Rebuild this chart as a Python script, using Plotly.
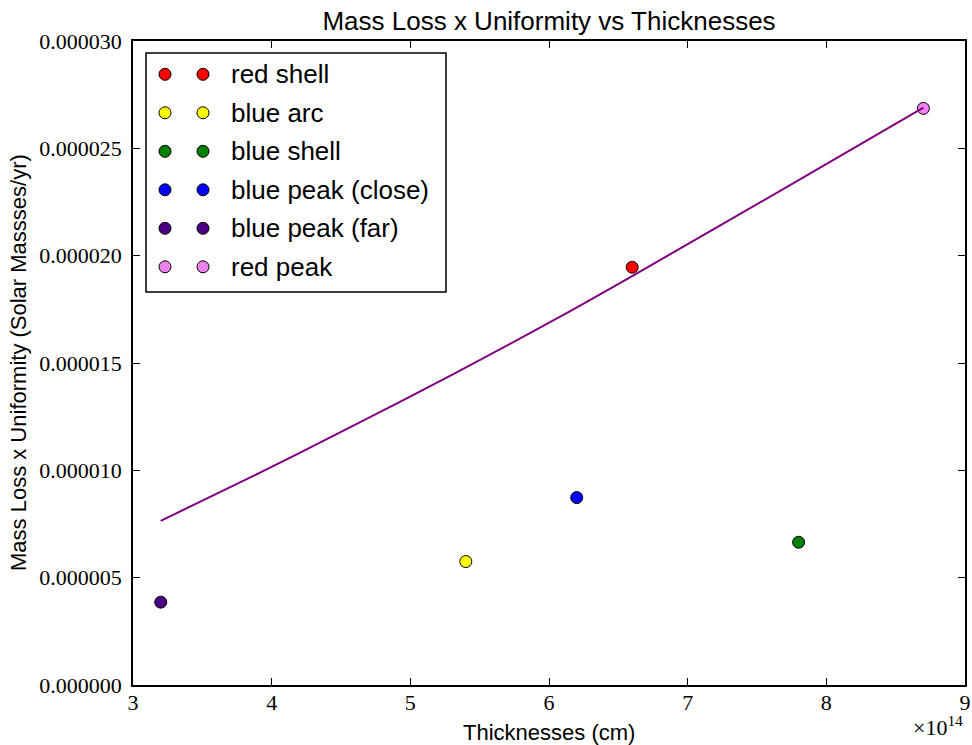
import plotly.graph_objects as go

# ---- data ----
names = ["red shell", "blue arc", "blue shell", "blue peak (close)", "blue peak (far)", "red peak"]
colors = ["#ff0000", "#ffff00", "#008000", "#0000ff", "#4b0082", "#ee82ee"]
thickness = [6.6e14, 5.4e14, 7.8e14, 6.2e14, 3.2e14, 8.7e14]
mass_loss_unif = [1.946e-5, 5.75e-6, 6.65e-6, 8.73e-6, 3.86e-6, 2.686e-5]

fit_x = [3.2e14, 3.85e14, 4.55e14, 5.3e14, 6.15e14, 6.6e14, 7.85e14, 8.7e14]
fit_y = [7.65e-6, 9.68e-6, 11.95e-6, 14.45e-6, 17.4e-6, 19.05e-6, 23.7e-6, 26.9e-6]

x_tickvals = [3e14, 4e14, 5e14, 6e14, 7e14, 8e14, 9e14]
x_ticktext = ["3", "4", "5", "6", "7", "8", "9"]
y_tickvals = [0, 5e-6, 1e-5, 1.5e-5, 2e-5, 2.5e-5, 3e-5]

W, H = 972, 745
ML, MR, MT, MB = 133, 7, 41, 60
PW, PH = W - ML - MR, H - MT - MB

SANS = "Liberation Sans, Arial, sans-serif"
SERIF = "Liberation Serif, Times New Roman, serif"

fig = go.Figure()
for n, c, x, y in zip(names, colors, thickness, mass_loss_unif):
    fig.add_trace(go.Scatter(
        x=[x], y=[y], mode="markers", name=n,
        marker=dict(color=c, size=12, line=dict(color="black", width=1)),
        showlegend=False,
    ))
fig.add_trace(go.Scatter(
    x=fit_x, y=fit_y, mode="lines", line=dict(color="#800080", width=2, shape="spline", smoothing=0.6),
    showlegend=False, name="fit",
))

# ---- manual legend (two markers per entry, matplotlib style) ----
def px2paper(px, py):
    return (px - ML) / PW, (MT + PH - py) / PH

shapes = []
annotations = []
bx0, by0 = px2paper(146, 53)
bx1, by1 = px2paper(446, 292)
shapes.append(dict(type="rect", xref="paper", yref="paper", x0=bx0, x1=bx1, y0=by1, y1=by0,
                   line=dict(color="black", width=1.5), fillcolor="white", layer="above"))
row0, dy = 74.3, 38.5
for i, (n, c) in enumerate(zip(names, colors)):
    py = row0 + i * dy
    for mx in (165, 203):
        ax, ay = px2paper(mx, py)
        shapes.append(dict(type="circle", xref="paper", yref="paper",
                           xsizemode="pixel", ysizemode="pixel", xanchor=ax, yanchor=ay,
                           x0=-6, x1=6, y0=-6, y1=6, fillcolor=c,
                           line=dict(color="black", width=1), layer="above"))
    tx, ty = px2paper(229, py)
    annotations.append(dict(xref="paper", yref="paper", x=tx, y=ty, text=n, showarrow=False,
                            xanchor="left", yanchor="middle",
                            font=dict(family=SANS, size=26, color="black")))

# axis titles
xtx, xty = px2paper(ML + PW / 2, 732)
annotations.append(dict(xref="paper", yref="paper", x=xtx, y=xty, text="Thicknesses (cm)",
                        showarrow=False, xanchor="center", yanchor="middle",
                        font=dict(family=SANS, size=22, color="black")))
ytx, yty = px2paper(18, MT + PH / 2)
annotations.append(dict(xref="paper", yref="paper", x=ytx, y=yty,
                        text="Mass Loss x Uniformity (Solar Massses/yr)", textangle=-90,
                        showarrow=False, xanchor="center", yanchor="middle",
                        font=dict(family=SANS, size=22, color="black")))

# x10^14 offset label
ox, oy = px2paper(965, 726)
annotations.append(dict(xref="paper", yref="paper", x=ox, y=oy, text="×10<sup>14</sup>",
                        showarrow=False, xanchor="right", yanchor="middle",
                        font=dict(family=SERIF, size=22, color="black")))

axis_common = dict(
    showline=True, linecolor="black", linewidth=1.5, mirror="allticks",
    ticks="inside", ticklen=7, tickwidth=1, tickcolor="black",
    showgrid=False, zeroline=False, automargin=False,
    tickfont=dict(family=SERIF, size=22, color="black"),
)

fig.update_layout(
    width=W, height=H,
    margin=dict(l=ML, r=MR, t=MT, b=MB),
    paper_bgcolor="white", plot_bgcolor="white",
    title=dict(text="Mass Loss x Uniformity vs Thicknesses", x=(ML + PW / 2) / W, xanchor="center",
               y=1 - 21 / H, yanchor="middle", yref="container",
               font=dict(family=SANS, size=26, color="black")),
    xaxis=dict(range=[3e14, 9e14], tickvals=x_tickvals, ticktext=x_ticktext,
               ticklabelstandoff=-3, **axis_common),
    yaxis=dict(range=[0, 3e-5], tickvals=y_tickvals, tickformat=".6f",
               ticklabelstandoff=5, **axis_common),
    shapes=shapes, annotations=annotations,
    showlegend=False,
)

fig.write_html("out.html", config={"displayModeBar": False},
               post_script="document.body.style.margin='0px';document.body.style.overflow='hidden';")
